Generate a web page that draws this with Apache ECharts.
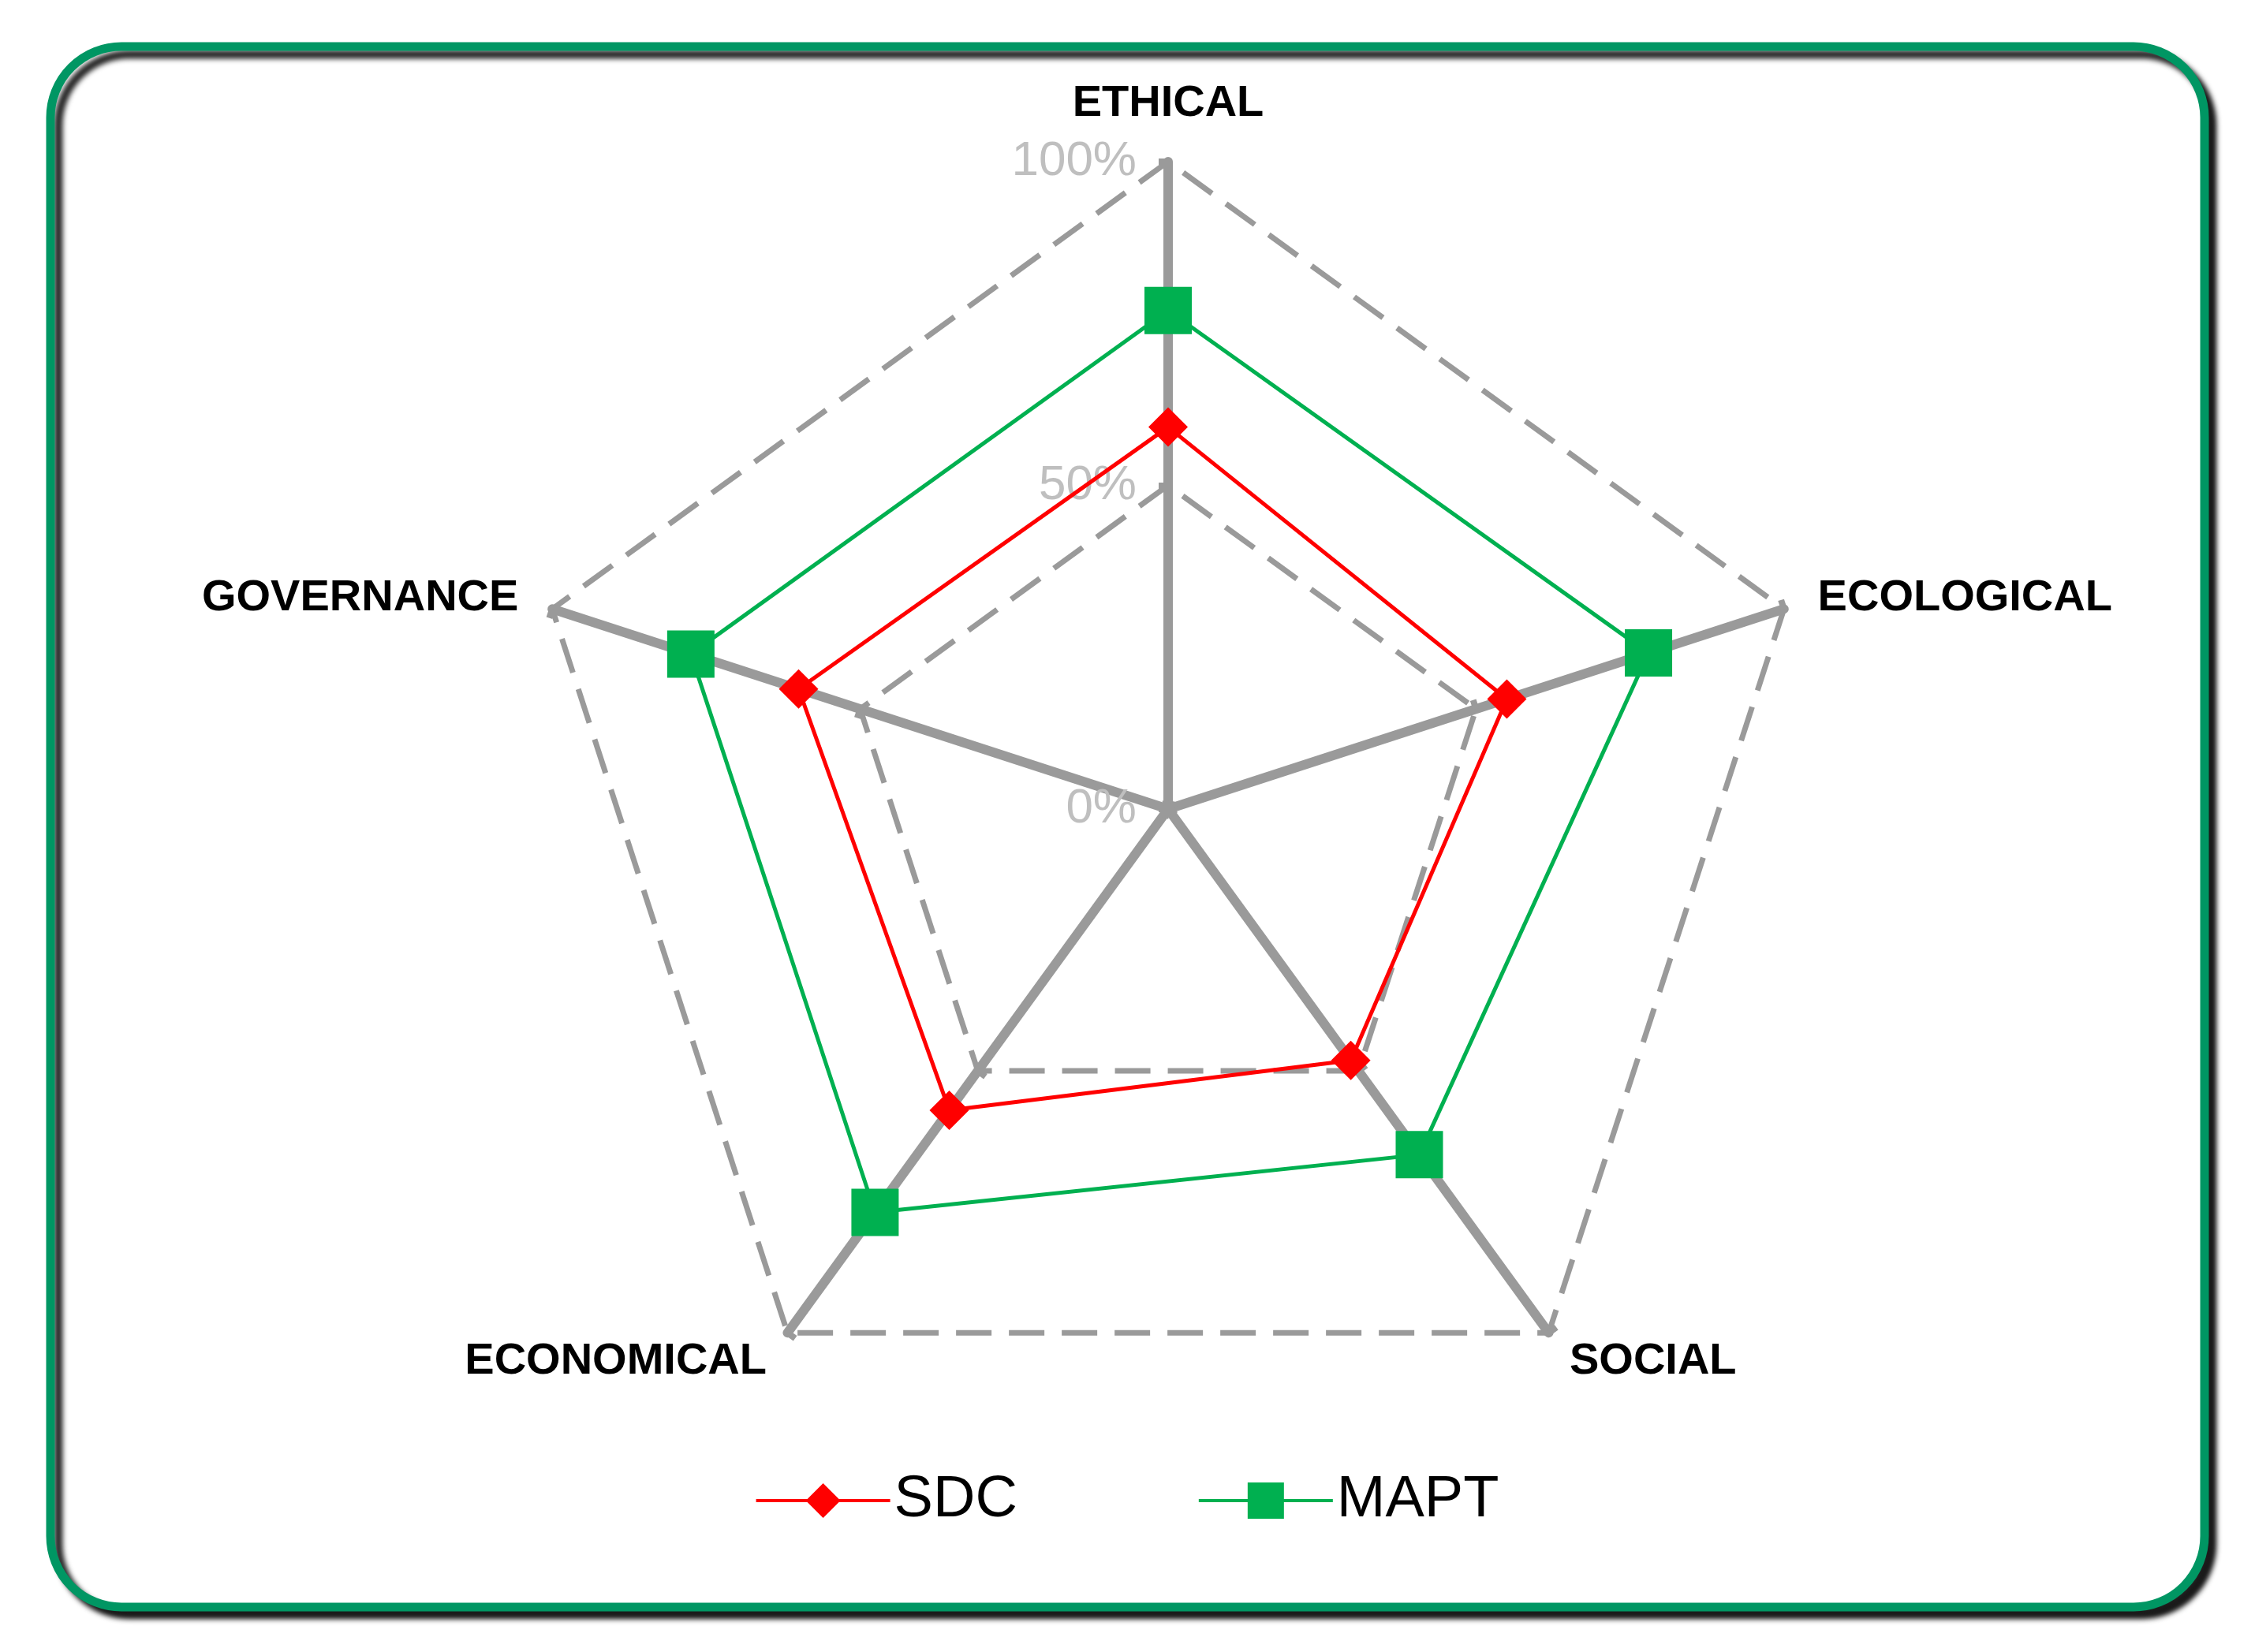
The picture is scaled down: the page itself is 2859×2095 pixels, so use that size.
<!DOCTYPE html>
<html><head><meta charset="utf-8">
<script src="https://cdn.jsdelivr.net/npm/echarts@6/dist/echarts.min.js"></script>
<style>html,body{margin:0;padding:0;background:#fff}#c{width:2859px;height:2095px}</style>
</head><body><div id="c"></div>
<script>
const categories = ['ETHICAL', 'ECOLOGICAL', 'SOCIAL', 'ECONOMICAL', 'GOVERNANCE'];
const sdc = [0.59, 0.55, 0.48, 0.575, 0.60];
const mapt = [0.77, 0.78, 0.66, 0.77, 0.775];
const seriesNames = ['SDC', 'MAPT'];

// ECharts radar runs counter-clockwise; reorder so categories go clockwise
const order = [0, 4, 3, 2, 1];
const cats = order.map(i => categories[i]);
const sdcV = order.map(i => sdc[i]);
const maptV = order.map(i => mapt[i]);

const chart = echarts.init(document.getElementById('c'));
const F = 'Liberation Sans, Arial, sans-serif';
chart.setOption({
  animation: false,
  graphic: [{
    type: 'rect', shape: { x: 64, y: 59, width: 2731, height: 1979, r: 90 },
    style: { fill: '#fff', stroke: '#009663', lineWidth: 11, shadowColor: 'rgba(0,0,0,0.85)', shadowBlur: 6, shadowOffsetX: 10, shadowOffsetY: 10 },
    z: -10
  }],
  legend: {
    bottom: 150, left: 'center', itemGap: 230, itemWidth: 170, itemHeight: 50,
    textStyle: { fontFamily: F, fontSize: 74, color: '#000', padding: [0, 0, 0, 0] },
    data: [
      { name: 'SDC', icon: 'path://M0,23H170V27H0ZM85,3L107,25L85,47L63,25Z' },
      { name: 'MAPT', icon: 'path://M0,23H170V27H0ZM62,2H108V48H62Z' }
    ]
  },
  radar: {
    center: [1481, 1026], radius: 821, startAngle: 90, shape: 'polygon', splitNumber: 2,
    indicator: cats.map((n, i) => i === 0
      ? { name: n, min: 0, max: 1, axisLabel: { show: true, color: '#bfbfbf', fontFamily: F, fontSize: 62, margin: 40, formatter: v => Math.round(v * 100) + '%' } }
      : { name: n, min: 0, max: 1 }),
    nameGap: 45,
    axisName: { color: '#000', fontFamily: F, fontWeight: 'bold', fontSize: 56 },
    axisLine: { lineStyle: { color: '#9a9a9a', width: 12 } },
    axisTick: { show: true, length: 12, lineStyle: { color: '#9a9a9a', width: 8 } },
    axisLabel: { show: false },
    splitLine: { lineStyle: { color: '#9a9a9a', width: 7, type: [45, 22] } },
    splitArea: { show: false }
  },
  series: [{
    type: 'radar',
    data: [
      { name: seriesNames[0], value: sdcV, symbol: 'diamond', symbolSize: 50,
        itemStyle: { color: '#ff0000' }, lineStyle: { color: '#ff0000', width: 5 } },
      { name: seriesNames[1], value: maptV, symbol: 'rect', symbolSize: 60,
        itemStyle: { color: '#00b050' }, lineStyle: { color: '#00b050', width: 5 } }
    ]
  }]
});
</script></body></html>
